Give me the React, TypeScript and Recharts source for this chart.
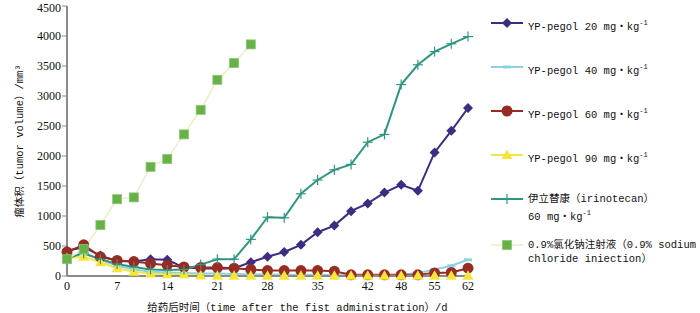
import React from "react";
import { LineChart, Line, XAxis, YAxis } from "recharts";

// days after first dose (category axis, evenly spaced points)
const days = [0, 2, 5, 7, 9, 12, 14, 16, 19, 21, 23, 26, 28, 30, 33, 35, 37, 40, 42, 45, 48, 51, 55, 58, 62];
const dayTicks = [0, 7, 14, 21, 28, 35, 42, 48, 55, 62];
const volumeTicks = [0, 500, 1000, 1500, 2000, 2500, 3000, 3500, 4000, 4500];

const yp20 = [420, 480, 340, 250, 240, 280, 270, 140, 130, 120, 130, 230, 320, 400, 520, 730, 840, 1080, 1210, 1390, 1520, 1420, 2060, 2420, 2800];
const yp40 = [320, 380, 270, 170, 110, 70, 60, 50, 40, 40, 35, 30, 25, 20, 20, 20, 15, 15, 10, 10, 20, 50, 110, 170, 270];
const yp60 = [400, 520, 320, 260, 240, 210, 180, 150, 140, 140, 130, 110, 90, 90, 90, 90, 80, 20, 20, 20, 20, 20, 50, 60, 130];
const yp90 = [300, 320, 230, 130, 70, 40, 30, 30, 10, 5, 5, 5, 5, 5, 5, 5, 5, 5, 5, 5, 5, 5, 5, 5, 5];
const irinotecan = [300, 380, 280, 200, 150, 110, 100, 110, 190, 280, 280, 610, 980, 970, 1370, 1600, 1770, 1860, 2230, 2360, 3190, 3520, 3740, 3870, 3990];
const saline = [280, 450, 850, 1280, 1310, 1820, 1950, 2360, 2770, 3270, 3550, 3860];

const data = days.map((d, i) => ({
  day: d,
  yp20: yp20[i],
  yp40: yp40[i],
  yp60: yp60[i],
  yp90: yp90[i],
  irinotecan: irinotecan[i],
  saline: i < saline.length ? saline[i] : null,
}));

const MONO = '"Liberation Mono", "Noto Sans CJK SC", monospace';
const SERIF = '"Liberation Serif", "Noto Sans CJK SC", serif';
const INK = "#111";

const Diamond = ({ cx, cy, c }: any) => (
  <polygon points={`${cx},${cy - 5} ${cx + 5},${cy} ${cx},${cy + 5} ${cx - 5},${cy}`} fill={c} />
);
const Dash = ({ cx, cy, c }: any) => (
  <line x1={cx - 4} y1={cy} x2={cx + 4} y2={cy} stroke={c} strokeWidth={3} />
);
const Dot = ({ cx, cy, c }: any) => <circle cx={cx} cy={cy} r={5.5} fill={c} />;
const Tri = ({ cx, cy, c }: any) => (
  <polygon points={`${cx},${cy - 5.5} ${cx + 5.5},${cy + 4} ${cx - 5.5},${cy + 4}`} fill={c} />
);
const Plus = ({ cx, cy, c }: any) => (
  <g stroke={c} strokeWidth={1.2}>
    <line x1={cx - 5} y1={cy} x2={cx + 5} y2={cy} />
    <line x1={cx} y1={cy - 5} x2={cx} y2={cy + 5} />
  </g>
);
const Square = ({ cx, cy, c }: any) => (
  <rect x={cx - 4.5} y={cy - 4.5} width={9} height={9} fill={c} stroke="#8cc66e" strokeWidth={0.8} />
);

const series = [
  { key: "yp20", name: ["YP-pegol 20 mg・kg", "-1"], line: "#3d2b84", mark: "#3d2b84", w: 2, Shape: Diamond },
  { key: "yp40", name: ["YP-pegol 40 mg・kg", "-1"], line: "#8bd2e2", mark: "#8bd2e2", w: 2, Shape: Dash },
  { key: "yp60", name: ["YP-pegol 60 mg・kg", "-1"], line: "#972c24", mark: "#972c24", w: 2, Shape: Dot },
  { key: "yp90", name: ["YP-pegol 90 mg・kg", "-1"], line: "#f3e64a", mark: "#f5e53a", w: 2, Shape: Tri },
  { key: "irinotecan", name: ["伊立替康（irinotecan）", "60 mg・kg", "-1"], line: "#2f9683", mark: "#2f9683", w: 2, Shape: Plus },
  { key: "saline", name: ["0.9%氯化钠注射液（0.9% sodium", "chloride iniection）"], line: "#e9efc6", mark: "#66b249", w: 1.5, Shape: Square },
];

const rowHeights = [44, 44, 44, 44, 46, 44];

const LegendBox = () => (
  <div style={{ fontFamily: MONO, fontSize: 10.5, color: INK, lineHeight: "14px" }}>
    {series.map((s, i) => (
      <div key={s.key} style={{ display: "flex", height: rowHeights[i] }}>
        <svg width={38} height={14} style={{ flex: "none" }}>
          <line x1={1} y1={7} x2={33} y2={7} stroke={s.line} strokeWidth={s.w} />
          <s.Shape cx={17} cy={7} c={s.mark} />
        </svg>
        <div style={{ whiteSpace: "nowrap" }}>
          {s.key === "saline" ? (
            <>
              <div>{s.name[0]}</div>
              <div>{s.name[1]}</div>
            </>
          ) : s.key === "irinotecan" ? (
            <>
              <div>{s.name[0]}</div>
              <div>
                {s.name[1]}
                <sup style={{ fontSize: 7 }}>{s.name[2]}</sup>
              </div>
            </>
          ) : (
            <div>
              {s.name[0]}
              <sup style={{ fontSize: 7 }}>{s.name[1]}</sup>
            </div>
          )}
        </div>
      </div>
    ))}
  </div>
);

export default function App() {
  return (
    <div style={{ position: "absolute", left: 0, top: 0, width: 700, height: 313, background: "#fff" }}>
      <LineChart width={700} height={313} data={data} margin={{ top: 6, right: 232, bottom: 7, left: 7 }}>
        <XAxis
          dataKey="day"
          ticks={dayTicks}
          interval={0}
          height={30}
          tickLine={false}
          tickSize={3}
          axisLine={{ stroke: "#8a8a8a", strokeWidth: 2 }}
          tick={{ fill: INK, fontSize: 12, fontFamily: SERIF }}
          label={{
            value: "给药后时间（time after the fist administration）/d",
            position: "insideBottom",
            offset: -5,
            dx: 30,
            style: { fontFamily: MONO, fontSize: 10.5, fill: INK },
          }}
        />
        <YAxis
          domain={[0, 4500]}
          ticks={volumeTicks}
          width={60}
          tickSize={5}
          tickMargin={1}
          axisLine={{ stroke: "#8a8a8a", strokeWidth: 2 }}
          tickLine={{ stroke: "#8a8a8a" }}
          tick={{ fill: INK, fontSize: 12, fontFamily: SERIF }}
          label={{
            value: "瘤体积（tumor volume）/mm³",
            angle: -90,
            position: "insideLeft",
            offset: 12,
            style: { textAnchor: "middle", fontFamily: MONO, fontSize: 10.5, fill: INK },
          }}
        />
        {series.map((s) => (
          <Line
            key={s.key}
            dataKey={s.key}
            stroke={s.line}
            strokeWidth={s.w}
            isAnimationActive={false}
            connectNulls={false}
            dot={(p: any) =>
              p.cy == null || p.value == null ? (
                <g key={`${s.key}-${p.index}`} />
              ) : (
                <s.Shape key={`${s.key}-${p.index}`} cx={p.cx} cy={p.cy} c={s.mark} />
              )
            }
          />
        ))}
      </LineChart>
      <div style={{ position: "absolute", left: 490, top: 16, width: 210 }}>
        <LegendBox />
      </div>
    </div>
  );
}
